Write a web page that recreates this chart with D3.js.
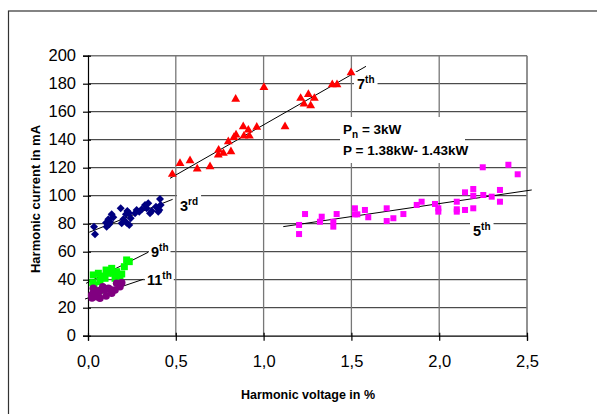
<!DOCTYPE html>
<html><head><meta charset="utf-8">
<script src="https://cdn.jsdelivr.net/npm/d3@7"></script>
<style>
body{margin:0;background:#fff}
svg{display:block;font-family:"Liberation Sans",Arial,sans-serif}
</style>
</head><body>
<svg id="chart" width="597" height="414"></svg>
<script>
// ---------- data ----------
const xTicks = [0, 0.5, 1.0, 1.5, 2.0, 2.5];
const yTicks = [0, 20, 40, 60, 80, 100, 120, 140, 160, 180, 200];
const xTitle = "Harmonic voltage in %";
const yTitle = "Harmonic current in mA";

// 3rd harmonic (navy diamonds)
const h3x = [0.034,0.040,0.103,0.106,0.116,0.125,0.135,0.144,0.121,0.186,0.192,0.201,0.216,0.224,0.235,0.220,0.243,0.235,0.268,0.277,0.292,0.306,0.325,0.334,0.343,0.353,0.363,0.387,0.400,0.410,0.414,0.406];
const h3y = [77.9,72.4,80.7,77.9,83.1,81.4,86.7,84.6,79.6,91.0,80.3,83.1,86.7,89.1,87.4,80.7,83.9,79.1,87.4,89.8,88.6,90.3,93.4,91.0,94.6,87.4,89.1,92.1,88.6,97.6,93.4,89.8];
const trend3 = [[0.007,73.9],[0.482,97.4]];

// 5th harmonic (magenta squares)
const h5x = [1.202,1.202,1.236,1.321,1.331,1.397,1.397,1.416,1.520,1.520,1.534,1.577,1.596,1.701,1.701,1.739,1.796,1.872,1.900,1.976,1.995,1.995,2.100,2.100,2.100,2.147,2.147,2.194,2.194,2.194,2.248,2.251,2.299,2.346,2.346,2.394,2.447];
const h5y = [79.1,72.6,86.9,81.4,85.0,81.4,77.9,86.9,91.0,86.7,86.7,89.8,84.6,91.0,81.9,83.9,86.9,93.4,95.7,94.1,91.0,88.6,95.7,90.3,88.6,89.8,102.4,104.8,100.0,91.0,120.3,100.5,99.3,104.1,95.7,122.1,115.3];
const trend5 = [[1.112,77.9],[2.527,104.1]];

// 7th harmonic (red triangles)
const h7x = [0.480,0.524,0.581,0.622,0.695,0.841,0.744,0.742,0.771,0.814,0.799,0.831,0.843,0.884,0.888,0.913,0.919,0.961,1.002,1.122,1.211,1.255,1.230,1.268,1.289,1.391,1.418,1.498];
const h7y = [115.3,123.1,125.0,119.1,120.7,168.9,132.6,129.1,130.3,131.4,138.6,141.7,143.4,149.3,142.6,146.9,142.6,148.9,177.4,149.3,169.6,172.4,165.5,164.3,169.6,179.3,179.3,187.9];
const trend7 = [[0.467,112.4],[1.583,192.4]];

// 9th harmonic (green squares)
const h9x = [0.030,0.027,0.059,0.072,0.103,0.110,0.097,0.135,0.144,0.154,0.163,0.192,0.207,0.220,0.235,0.068,0.034,0.182];
const h9y = [43.4,37.9,44.6,42.6,46.9,44.6,41.0,48.1,44.6,41.0,45.7,44.1,49.3,54.1,52.9,38.6,36.2,42.1];
const trend9 = [[-0.011,37.4],[0.343,59.6]];

// 11th harmonic (purple circles)
const h11x = [0.030,0.040,0.059,0.072,0.097,0.116,0.135,0.154,0.163,0.182,0.192,0.030,0.050,0.125,0.084,0.021,0.068,0.023,0.103];
const h11y = [30.3,32.6,30.7,32.6,32.6,33.9,30.3,32.6,37.4,35.0,37.9,33.9,27.9,33.1,35.0,29.1,26.7,26.9,28.4];
const trend11 = [[-0.017,26.2],[0.315,40.3]];

const noteLines = [["P","n"," = 3kW"],["P = 1.38kW- 1.43kW"]];

// ---------- layout ----------
const svg = d3.select("#chart");
const x = d3.scaleLinear().domain([0, 2.5]).range([88, 527]);
const y = d3.scaleLinear().domain([0, 200]).range([335.7, 55.7]);
const fmt = v => d3.format(".1f")(v).replace(".", ",");

// outer frame
svg.append("rect").attr("x", 8.5).attr("y", 11).attr("width", 600).attr("height", 420)
  .attr("fill", "#fff").attr("stroke", "#333").attr("stroke-width", 1.2);

const g = svg.append("g");

// horizontal gridlines
g.selectAll("line.hg").data(yTicks.filter(d => d > 0)).join("line")
  .attr("x1", x(0)).attr("x2", x(2.5)).attr("y1", d => y(d)).attr("y2", d => y(d))
  .attr("stroke", d => d === 200 ? "#777" : "#222").attr("stroke-width", d => d === 200 ? 1.6 : 1);
// vertical gridlines
g.selectAll("line.vg").data(xTicks.filter(d => d > 0)).join("line")
  .attr("x1", d => x(d)).attr("x2", d => x(d)).attr("y1", y(200)).attr("y2", y(0))
  .attr("stroke", "#777").attr("stroke-width", d => d === 2.5 ? 1.6 : 1.3);

// trend lines
const trends = [trend3, trend5, trend7, trend9, trend11];
g.selectAll("line.tr").data(trends).join("line")
  .attr("x1", d => x(d[0][0])).attr("y1", d => y(d[0][1]))
  .attr("x2", d => x(d[1][0])).attr("y2", d => y(d[1][1]))
  .attr("stroke", "#000").attr("stroke-width", 1);

// axes
const yAxis = g.append("g").attr("transform", `translate(${x(0)},0)`)
  .call(d3.axisLeft(y).tickValues(yTicks).tickSize(5).tickPadding(7));
const xAxis = g.append("g").attr("transform", `translate(0,${y(0)})`)
  .call(d3.axisBottom(x).tickValues(xTicks).tickSize(5).tickFormat(fmt).tickPadding(15));
[yAxis, xAxis].forEach(a => {
  a.select(".domain").attr("stroke", "#000").attr("stroke-width", 1.2);
  a.selectAll(".tick line").attr("stroke", "#000").attr("stroke-width", 1.2);
  a.selectAll(".tick text").attr("fill", "#000").attr("font-size", "16.5px")
    .attr("font-family", "'Liberation Sans',Arial,sans-serif");
});
yAxis.selectAll(".tick line").attr("x2", -5).attr("x1", 3);
xAxis.selectAll(".tick line").attr("y1", -3).attr("y2", 5);

// axis titles
svg.append("text").attr("x", 308).attr("y", 399).attr("text-anchor", "middle")
  .attr("font-weight", "bold").attr("font-size", "12.5px").text(xTitle);
svg.append("text").attr("transform", "translate(39.5,199) rotate(-90)").attr("text-anchor", "middle")
  .attr("font-weight", "bold").attr("font-size", "13px").text(yTitle);

// labels with white background
function label(px, py, main, sup, pad) {
  const t = g.append("text").attr("x", px).attr("y", py).attr("font-weight", "bold").attr("font-size", "14.5px");
  t.append("tspan").text(main);
  t.append("tspan").attr("dy", -6).attr("font-size", "10px").text(sup);
  const b = t.node().getBBox();
  g.insert("rect", () => t.node()).attr("x", b.x - pad).attr("y", b.y - 2).attr("width", b.width + 2 * pad)
    .attr("height", b.height + 4).attr("fill", "#fff");
}
label(180, 211, "3", "rd", 3);
label(151, 257, "9", "th", 2);
label(147, 285, "11", "th", 2);
label(357, 89, "7", "th", 3);
label(473, 236, "5", "th", 3);

// P note
const note = g.append("g");
const nb = note.append("rect").attr("fill", "#fff");
const t1 = note.append("text").attr("x", 343).attr("y", 134).attr("font-weight", "bold").attr("font-size", "13.5px");
t1.append("tspan").text(noteLines[0][0]);
t1.append("tspan").attr("dy", 4).attr("font-size", "10px").text(noteLines[0][1]);
t1.append("tspan").attr("dy", -4).text(noteLines[0][2]);
note.append("text").attr("x", 343).attr("y", 155).attr("font-weight", "bold").attr("font-size", "13.5px")
  .text(noteLines[1][0]);
nb.attr("x", 340).attr("y", 117).attr("width", 125).attr("height", 46);

// markers
const pts = (xs, ys) => xs.map((v, i) => [v, ys[i]]);
g.selectAll("path.h3").data(pts(h3x, h3y)).join("path")
  .attr("d", d3.symbol(d3.symbolSquare, 32)).attr("transform", d => `translate(${x(d[0])},${y(d[1])}) rotate(45)`)
  .attr("fill", "#000080");
g.selectAll("rect.h5").data(pts(h5x, h5y)).join("rect")
  .attr("x", d => x(d[0]) - 3).attr("y", d => y(d[1]) - 3).attr("width", 6).attr("height", 6).attr("fill", "#FF00FF");
g.selectAll("path.h7").data(pts(h7x, h7y)).join("path")
  .attr("d", d3.symbol(d3.symbolTriangle, 34)).attr("transform", d => `translate(${x(d[0])},${y(d[1])})`)
  .attr("fill", "#FF0000");
g.selectAll("rect.h9").data(pts(h9x, h9y)).join("rect")
  .attr("x", d => x(d[0]) - 3.5).attr("y", d => y(d[1]) - 3.5).attr("width", 7).attr("height", 7).attr("fill", "#00FF00");
g.selectAll("circle.h11").data(pts(h11x, h11y)).join("circle")
  .attr("cx", d => x(d[0])).attr("cy", d => y(d[1])).attr("r", 3.8).attr("fill", "#800080");
</script>
</body></html>
